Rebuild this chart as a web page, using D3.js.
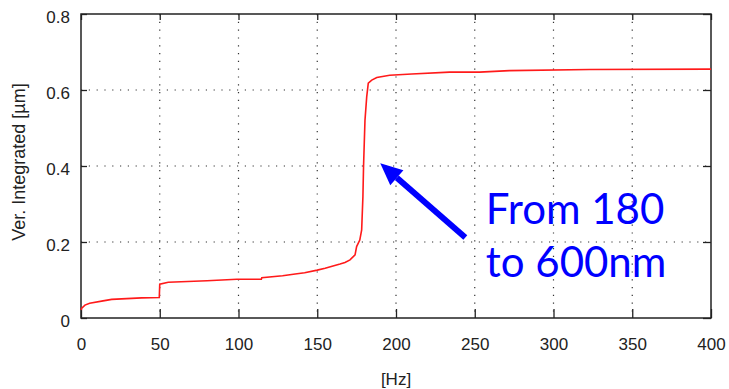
<!DOCTYPE html>
<html>
<head>
<meta charset="utf-8">
<script src="https://cdn.jsdelivr.net/npm/d3@7"></script>
<style>
  body { margin: 0; background: #fff; }
  text { font-family: "Liberation Sans", Arial, sans-serif; }
</style>
</head>
<body>
<div id="chart"></div>
<script>
// curve: frequency [Hz] and integrated displacement [um]
var hz = [0, 0.5, 2.5, 5.5, 14, 19.5, 38.5, 49.7, 50, 55.4, 80, 99, 114.5, 114.8, 128, 136, 142, 150, 155, 160, 164.5, 167.6, 170.8, 174, 175, 177, 178.2, 179, 179.4, 180.3, 181.4, 182.4, 184.6, 187.8, 196, 210, 234, 253, 272, 323, 400];
var disp = [0.021, 0.026, 0.034, 0.039, 0.045, 0.049, 0.053, 0.054, 0.089, 0.094, 0.098, 0.102, 0.102, 0.106, 0.111, 0.116, 0.119, 0.126, 0.131, 0.137, 0.142, 0.146, 0.153, 0.166, 0.188, 0.205, 0.232, 0.32, 0.40, 0.52, 0.582, 0.618, 0.626, 0.633, 0.639, 0.642, 0.647, 0.647, 0.651, 0.654, 0.655];

var xTicks = [0, 50, 100, 150, 200, 250, 300, 350, 400];
var yTicks = [0, 0.2, 0.4, 0.6, 0.8];

// annotation
var noteLines = ["From 180", "to 600nm"];
var arrowFrom = [244, 0.212], arrowTo = [190, 0.407];

var W = 729, H = 389;
var margin = { top: 14, right: 18, bottom: 71, left: 81 },
    width = W - margin.left - margin.right,
    height = H - margin.top - margin.bottom;

var svg = d3.select("#chart")
    .append("svg")
    .attr("width", W)
    .attr("height", H)
    .append("g")
    .attr("transform", "translate(" + margin.left + "," + margin.top + ")");

var x = d3.scaleLinear().domain([0, 400]).range([0, width]);
var y = d3.scaleLinear().domain([0, 0.8]).range([height, 0]);

// dotted grid
svg.append("g")
    .selectAll("line")
    .data(xTicks.slice(1, -1))
    .enter().append("line")
    .attr("x1", function (d) { return x(d); })
    .attr("x2", function (d) { return x(d); })
    .attr("y1", 0).attr("y2", height)
    .attr("stroke", "#333").attr("stroke-width", 1.2)
    .attr("stroke-dasharray", "1.2,6.6");
svg.append("g")
    .selectAll("line")
    .data(yTicks.slice(1, -1))
    .enter().append("line")
    .attr("y1", function (d) { return y(d); })
    .attr("y2", function (d) { return y(d); })
    .attr("x1", 0).attr("x2", width)
    .attr("stroke", "#333").attr("stroke-width", 1.2)
    .attr("stroke-dasharray", "1.2,6.6");

// axes
var fmt = function (d) { return d === 0 ? "0" : d3.format(".1f")(d); };

var gx = svg.append("g")
    .attr("transform", "translate(0," + height + ")")
    .call(d3.axisBottom(x).tickValues(xTicks).tickSize(-9).tickPadding(20));
var gy = svg.append("g")
    .call(d3.axisLeft(y).tickValues(yTicks).tickSize(-6).tickPadding(11).tickFormat(fmt));
svg.append("g")
    .call(d3.axisTop(x).tickValues(xTicks).tickSize(-6).tickFormat(""));
svg.append("g")
    .attr("transform", "translate(" + width + ",0)")
    .call(d3.axisRight(y).tickValues(yTicks).tickSize(-8).tickFormat(""));

svg.selectAll(".domain").remove();
svg.selectAll(".tick line").attr("stroke", "#222").attr("stroke-width", 1.3);
gx.selectAll("text").attr("font-size", "17px").attr("fill", "#222")
    .style("font-family", "Liberation Sans, Arial, sans-serif");
gy.selectAll("text").attr("font-size", "17px").attr("fill", "#222").attr("dy", 8.5)
    .style("font-family", "Liberation Sans, Arial, sans-serif");

// frame
svg.append("rect")
    .attr("x", 0).attr("y", 0)
    .attr("width", width).attr("height", height)
    .attr("fill", "none")
    .attr("stroke", "#222")
    .attr("stroke-width", 1.5);

// curve
var line = d3.line()
    .x(function (d) { return x(d[0]); })
    .y(function (d) { return y(d[1]); });

svg.append("path")
    .datum(d3.zip(hz, disp))
    .attr("d", line)
    .attr("fill", "none")
    .attr("stroke", "#ff1a1a")
    .attr("stroke-width", 1.6);

// axis titles
svg.append("text")
    .text("[Hz]")
    .attr("x", width / 2)
    .attr("y", height + 67)
    .attr("text-anchor", "middle")
    .attr("font-size", "17px")
    .attr("fill", "#222");

svg.append("text")
    .text("Ver. Integrated [\u00b5m]")
    .attr("transform", "translate(-56," + (height / 2 - 4) + ")rotate(-90)")
    .attr("text-anchor", "middle")
    .attr("font-size", "18px")
    .attr("fill", "#222");

// arrow annotation
var x1 = x(arrowFrom[0]), y1 = y(arrowFrom[1]),
    x2 = x(arrowTo[0]), y2 = y(arrowTo[1]);
var ang = Math.atan2(y2 - y1, x2 - x1);
var headLen = 22, headW = 10;
var bx = x2 - headLen * Math.cos(ang), by = y2 - headLen * Math.sin(ang);

svg.append("line")
    .attr("x1", x1).attr("y1", y1)
    .attr("x2", bx).attr("y2", by)
    .attr("stroke", "#0000ff")
    .attr("stroke-width", 6);

svg.append("polygon")
    .attr("points", [
        [x2, y2],
        [bx + headW * Math.sin(ang), by - headW * Math.cos(ang)],
        [bx - headW * Math.sin(ang), by + headW * Math.cos(ang)]
    ].map(function (p) { return p.join(","); }).join(" "))
    .attr("fill", "#0000ff");

svg.append("g")
    .selectAll("text")
    .data(noteLines)
    .enter().append("text")
    .text(function (d) { return d; })
    .attr("x", x(257))
    .attr("y", function (d, i) { return y(0.247) + i * 52.4; })
    .style("font-family", "Lato, sans-serif")
    .attr("font-size", "42px")
    .attr("fill", "#0000ff");
</script>
</body>
</html>
